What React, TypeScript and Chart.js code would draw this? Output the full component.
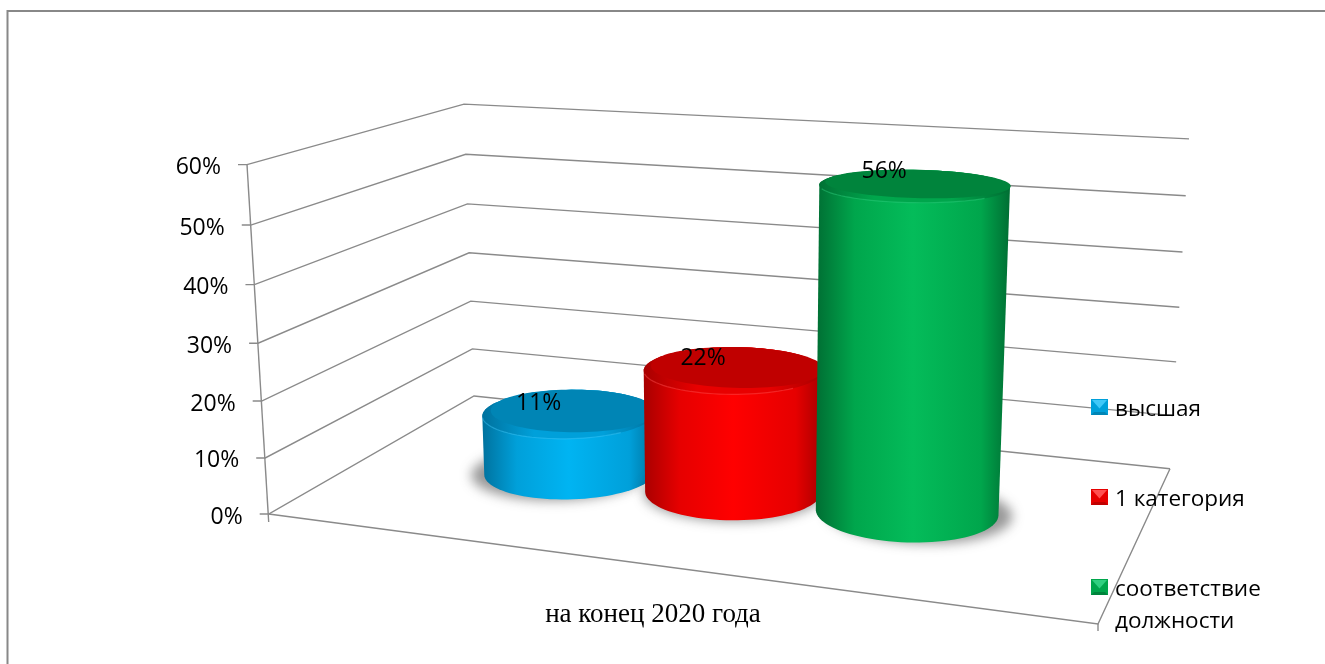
import React, { useEffect, useRef } from "react";
import { Chart, registerables, LinearScale } from "chart.js";

// ---- data ----
const categories = ["на конец 2020 года"];
const seriesNames = ["высшая", "1 категория", "соответствие должности"];
const seriesValues = [11, 22, 56];
const axisMax = 60;
const axisStep = 10;

// ---- styles ----
const barPalette = [
  { edge: "#00729E", mid: "#00A0DA", bright: "#00B4F2", top: "#0085B5", rim: "#00A0DA", light: "#40C8F8" },
  { edge: "#A80000", mid: "#E60000", bright: "#FF0000", top: "#C00000", rim: "#E80000", light: "#FF5050" },
  { edge: "#006E33", mid: "#00A64C", bright: "#04BC5A", top: "#00843C", rim: "#00A64C", light: "#30D080" },
];
const GRID = "#8a8a8a";
const SANS = "'Open Sans', sans-serif";

// ---- 3D view: floor corners and wall-top corners on the page ----
const FLOOR_FL = [268.7, 514];
const FLOOR_FR = [1098, 624];
const FLOOR_BR = [1170, 468.7];
const FLOOR_BL = [474, 396];
const TOP_FL = [247, 164];
const TOP_BL = [465, 103];
const TOP_BR = [1189, 140.7];
const DEPTH_CENTER = 0.5;
const DEPTH_RADIUS = 0.2;

function makeCamera() {
  const [x0, y0] = FLOOR_FL, [x1, y1] = FLOOR_FR, [x2, y2] = FLOOR_BR, [x3, y3] = FLOOR_BL;
  const dx1 = x1 - x2, dx2 = x3 - x2, dx3 = x0 - x1 + x2 - x3;
  const dy1 = y1 - y2, dy2 = y3 - y2, dy3 = y0 - y1 + y2 - y3;
  const den = dx1 * dy2 - dx2 * dy1;
  const g = (dx3 * dy2 - dx2 * dy3) / den;
  const h = (dx1 * dy3 - dx3 * dy1) / den;
  const a = x1 - x0 + g * x1, b = x3 - x0 + h * x3, c = x0;
  const d = y1 - y0 + g * y1, e = y3 - y0 + h * y3, f = y0;
  const fl = (u: number, w: number) => [a * u + b * w + c, d * u + e * w + f, g * u + h * w + 1];
  const f1 = fl(0, 0), f2 = fl(1, 1), f3 = fl(0, 1);
  const X1 = TOP_FL[0], X2 = TOP_BR[0];
  const r1 = X1 * f1[2] - f1[0], r2 = X2 * f2[2] - f2[0];
  const pw = (r1 - r2) / (X2 - X1);
  const px = r1 + X1 * pw;
  const py = ((TOP_FL[1] * (f1[2] + pw) - f1[1]) + (TOP_BR[1] * (f2[2] + pw) - f2[1]) + (TOP_BL[1] * (f3[2] + pw) - f3[1])) / 3;
  return (u: number, w: number, z: number): [number, number] => {
    const v = fl(u, w);
    const q = v[2] + z * pw;
    return [(v[0] + z * px) / q, (v[1] + z * py) / q];
  };
}
const project = makeCamera();

class FrontEdgeScale extends (LinearScale as any) {
  static id = "frontEdge";
  static defaults = {};
  dec(v: number) { return (v - this.min) / (this.max - this.min); }
  getPixelForValue(v: number) { return v === null ? NaN : project(0, 0, this.dec(v))[1]; }
  _computeLabelArea() { return undefined; }
  _computeLabelItems(area: any) {
    const items = super._computeLabelItems(area);
    items.forEach((it: any, i: number) => {
      const p = project(0, 0, this.dec(this.ticks[i].value));
      it.options.translation = [p[0] - 26, p[1] + 3];
    });
    return items;
  }
}
Chart.register(...registerables, FrontEdgeScale as any);

function line(ctx: any, pts: number[][]) {
  ctx.beginPath();
  pts.forEach((p, i) => (i ? ctx.lineTo(p[0], p[1]) : ctx.moveTo(p[0], p[1])));
  ctx.stroke();
}
function poly(ctx: any, pts: number[][]) {
  ctx.beginPath();
  pts.forEach((p, i) => (i ? ctx.lineTo(p[0], p[1]) : ctx.moveTo(p[0], p[1])));
  ctx.closePath();
}
function ring(u: number, w: number, ru: number, rw: number, z: number) {
  const out: number[][] = [];
  for (let i = 0; i <= 96; i++) {
    const t = (i / 96) * Math.PI * 2;
    out.push(project(u + ru * Math.cos(t), w + rw * Math.sin(t), z));
  }
  return out;
}
function hull(points: number[][]) {
  const p = [...points].sort((a, b) => a[0] - b[0] || a[1] - b[1]);
  const cr = (o: number[], a: number[], b: number[]) => (a[0] - o[0]) * (b[1] - o[1]) - (a[1] - o[1]) * (b[0] - o[0]);
  const lo: number[][] = [], up: number[][] = [];
  for (const q of p) {
    while (lo.length > 1 && cr(lo[lo.length - 2], lo[lo.length - 1], q) <= 0) lo.pop();
    lo.push(q);
  }
  for (const q of p.slice().reverse()) {
    while (up.length > 1 && cr(up[up.length - 2], up[up.length - 1], q) <= 0) up.pop();
    up.push(q);
  }
  return lo.slice(0, -1).concat(up.slice(0, -1));
}

const scenePlugin = {
  id: "scene3d",
  beforeDatasetsDraw(chart: any) {
    const { ctx, scales } = chart;
    const y = scales.y;
    ctx.save();
    ctx.strokeStyle = "#888888";
    ctx.lineWidth = 2;
    ctx.strokeRect(7.5, 11, 1400, 800);
    ctx.strokeStyle = GRID;
    ctx.lineWidth = 1.4;
    y.ticks.forEach((t: any) => {
      const z = y.dec(t.value);
      const a = project(0, 0, z), b = project(0, 1, z), c = project(1, 1, z);
      line(ctx, [[a[0] - 9, a[1]], a, b, c]);
    });
    line(ctx, [project(0, 0, 1), [project(0, 0, 0)[0], project(0, 0, 0)[1] + 8]]);
    const fl = project(0, 0, 0), fr = project(1, 0, 0), br = project(1, 1, 0);
    line(ctx, [fl, fr, br]);
    line(ctx, [fr, [fr[0], fr[1] + 7]]);
    ctx.restore();
  },
  beforeDatasetDraw() {
    return false;
  },
  afterDatasetsDraw(chart: any) {
    const { ctx, scales, chartArea } = chart;
    const y = scales.y;
    const span = chartArea.right - chartArea.left;
    const tops: number[][] = [];
    chart.data.datasets.forEach((ds: any, i: number) => {
      const bar = chart.getDatasetMeta(i).data[0];
      const pal = barPalette[i];
      const u = (bar.x - chartArea.left) / span;
      const ru = bar.width / 2 / span;
      const z = y.dec(ds.data[0]);
      const w0 = DEPTH_CENTER, rw = DEPTH_RADIUS;
      const bottom = ring(u, w0, ru, rw, 0);
      const top = ring(u, w0, ru, rw, z);

      // soft floor shadow, pushed away from the middle of the floor
      const centre = project(u, w0, 0);
      const shift = (centre[0] - 735) * 0.07;
      ctx.save();
      ctx.filter = "blur(6px)";
      ctx.fillStyle = "rgba(50,50,50,0.5)";
      poly(ctx, ring(u, w0, ru * 1.02, rw, 0).map((p) => [p[0] + shift, p[1] + 1]));
      ctx.fill();
      ctx.restore();

      // cylinder side
      const outline = hull(bottom.concat(top));
      const xs = outline.map((p) => p[0]);
      const minX = Math.min(...xs), maxX = Math.max(...xs);
      const grad = ctx.createLinearGradient(minX, 0, maxX, 0);
      grad.addColorStop(0, pal.edge);
      grad.addColorStop(0.2, pal.mid);
      grad.addColorStop(0.5, pal.bright);
      grad.addColorStop(0.85, pal.mid);
      grad.addColorStop(1, pal.edge);
      ctx.fillStyle = grad;
      poly(ctx, outline);
      ctx.fill();

      // top cap: the rim shows along the front, with a thin light edge
      const rimGrad = ctx.createLinearGradient(minX, 0, maxX, 0);
      rimGrad.addColorStop(0, pal.edge);
      rimGrad.addColorStop(0.3, pal.rim);
      rimGrad.addColorStop(0.7, pal.rim);
      rimGrad.addColorStop(1, pal.edge);
      ctx.fillStyle = rimGrad;
      poly(ctx, top);
      ctx.fill();
      ctx.save();
      ctx.globalAlpha = 0.45;
      ctx.strokeStyle = pal.light;
      ctx.lineWidth = 1.2;
      line(ctx, top.slice(56, 89));
      ctx.restore();
      ctx.fillStyle = pal.top;
      poly(ctx, ring(u, w0 + 0.027, ru * 0.985, rw * 0.865, z));
      ctx.fill();

      const c = project(u, w0, z);
      tops.push([c[0] - 30, c[1] - 9 - 5 * z]);
    });

    ctx.save();
    ctx.fillStyle = "#000";
    ctx.font = `23px ${SANS}`;
    ctx.textAlign = "center";
    ctx.textBaseline = "middle";
    chart.data.datasets.forEach((ds: any, i: number) => {
      ctx.fillText(`${ds.data[0]}%`, tops[i][0], tops[i][1]);
    });
    ctx.restore();

    // legend
    const legendX = 1091;
    const legendY = [399, 489, 579];
    ctx.save();
    chart.data.datasets.forEach((ds: any, i: number) => {
      const pal = barPalette[i];
      const top = legendY[i], w = 17, h = 16, bev = 3;
      ctx.fillStyle = pal.mid;
      ctx.fillRect(legendX, top, w, h);
      ctx.fillStyle = pal.light;
      poly(ctx, [[legendX + 1, top + 1], [legendX + w - 1, top + 1], [legendX + w / 2, top + h * 0.6]]);
      ctx.fill();
      ctx.fillStyle = pal.top;
      poly(ctx, [[legendX, top + h], [legendX + w, top + h], [legendX + w - bev, top + h - bev], [legendX + bev, top + h - bev]]);
      ctx.fill();
      ctx.fillStyle = "#000";
      ctx.font = `22.5px ${SANS}`;
      ctx.textAlign = "left";
      ctx.textBaseline = "middle";
      const name: string = ds.label;
      const lines = i === 2 ? name.split(" ") : [name];
      lines.forEach((t, k) => ctx.fillText(t, 1115, top + 10.5 + k * 32));
    });
    ctx.restore();
  },
};

export default function App() {
  const ref = useRef<HTMLCanvasElement | null>(null);
  useEffect(() => {
    document.body.style.margin = "0";
    const chart = new Chart(ref.current as any, {
      type: "bar",
      data: {
        labels: categories,
        datasets: seriesNames.map((label, i) => ({
          label,
          data: [seriesValues[i]],
          backgroundColor: barPalette[i].bright,
        })),
      },
      options: {
        responsive: false,
        animation: false,
        layout: { padding: { left: 178, right: 257, top: 164, bottom: 0 } },
        plugins: { legend: { display: false }, tooltip: { enabled: false }, title: { display: false } },
        scales: {
          x: {
            type: "category",
            grid: { display: false },
            border: { display: false },
            afterFit: (s: any) => { s.height = 150; },
            ticks: {
              font: { family: "'Liberation Serif', serif", size: 27 },
              color: "#000",
              padding: 77,
              maxRotation: 0,
            },
          } as any,
          y: {
            type: "frontEdge",
            min: 0,
            max: axisMax,
            grid: { display: false },
            border: { display: false },
            afterFit: (s: any) => { s.width = 60; },
            ticks: {
              stepSize: axisStep,
              font: { family: SANS, size: 23 },
              color: "#000",
              callback: (v: any) => `${v}%`,
            },
          } as any,
        },
        datasets: { bar: { categoryPercentage: 0.67, barPercentage: 0.985 } },
      } as any,
      plugins: [scenePlugin as any],
    });
    return () => chart.destroy();
  }, []);
  return <canvas ref={ref} width={1325} height={664} style={{ display: "block", width: 1325, height: 664 }} />;
}
